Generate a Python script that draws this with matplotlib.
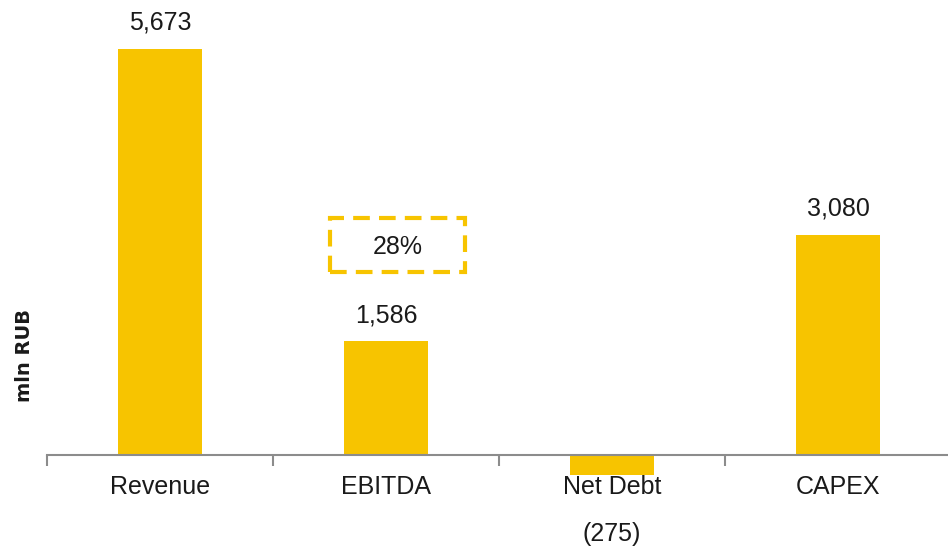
import matplotlib
matplotlib.use("Agg")
import matplotlib.pyplot as plt
from matplotlib.patches import Rectangle

categories = ["Revenue", "EBITDA", "Net Debt", "CAPEX"]
values = [5673, 1586, -275, 3080]
labels = ["5,673", "1,586", "(275)", "3,080"]
margin_text = "28%"

yellow = "#F7C400"
grey = "#8C8C8C"
ink = "#1A1A1A"

plt.rcParams["font.family"] = ["Liberation Sans", "DejaVu Sans"]

fig = plt.figure(figsize=(9.48, 5.47), dpi=100)
# axes spans the full height, x from tick 47px to ~951px
ax = fig.add_axes([47 / 948, 0.0, 904 / 948, 1.0])

x = list(range(len(categories)))
ax.bar(x, values, width=0.37, color=yellow, zorder=2)

ax.set_xlim(-0.5, 3.5)
ax.set_ylim(-1285, 6357)

for s in ["top", "right", "left"]:
    ax.spines[s].set_visible(False)
ax.spines["bottom"].set_position(("data", 0))
ax.spines["bottom"].set_color(grey)
ax.spines["bottom"].set_linewidth(1.5)

ax.set_xticks([-0.5, 0.5, 1.5, 2.5, 3.5])
ax.set_xticklabels([])
ax.tick_params(axis="x", length=8, width=1.5, color=grey)
ax.set_yticks([])

for i, name in enumerate(categories):
    ax.annotate(name, (i, 0), xytext=(0, -32), textcoords="offset pixels",
                ha="center", va="center", fontsize=18, color=ink)

for i, (v, lab) in enumerate(zip(values, labels)):
    if v >= 0:
        ax.annotate(lab, (i, v), xytext=(0, 26), textcoords="offset pixels",
                    ha="center", va="center", fontsize=18, color=ink)
    else:
        ax.annotate(lab, (i, 0), xytext=(0, -79), textcoords="offset pixels",
                    ha="center", va="center", fontsize=18, color=ink)

# EBITDA margin box
bx, by = 1.05, 2940
ax.text(bx, by - 30, margin_text, ha="center", va="center", fontsize=18, color=ink)
ax.add_patch(Rectangle((bx - 0.298, by - 377), 0.596, 754, fill=False,
                       edgecolor=yellow, linewidth=3, linestyle=(0, (4, 2.2))))

fig.text(25 / 948, 1 - 356 / 547, "mln RUB", rotation=90, ha="center",
         va="center", fontsize=14, fontweight="bold", color=ink,
         family="DejaVu Sans")

fig.savefig("out.png", dpi=100)
